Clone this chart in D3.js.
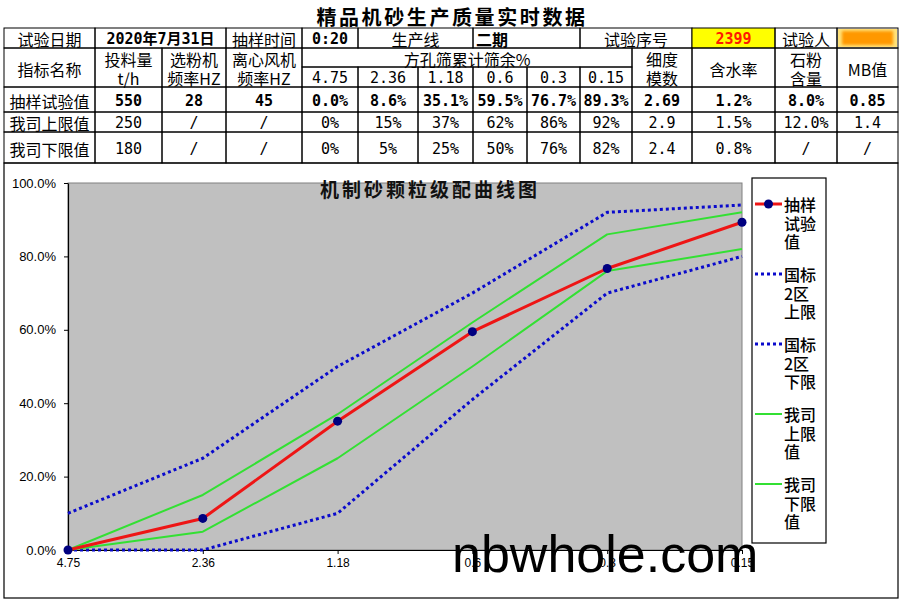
<!DOCTYPE html>
<html><head><meta charset="utf-8">
<script src="https://cdn.jsdelivr.net/npm/d3@7/dist/d3.min.js"></script>
<style>body{margin:0;background:#fff}</style>
</head><body><svg id="c" width="900" height="600"></svg>
<script>
// ---------- data ----------
const pageTitle = "精品机砂生产质量实时数据";
const chartTitle = "机制砂颗粒级配曲线图";
const infoRow = ["试验日期","2020年7月31日","抽样时间","0:20","生产线","二期","试验序号","2399","试验人",""];
const headerLabels = ["指标名称","投料量\nt/h","选粉机\n频率HZ","离心风机\n频率HZ","方孔筛累计筛余%","细度\n模数","含水率","石粉\n含量","MB值"];
const sieveSizes = ["4.75","2.36","1.18","0.6","0.3","0.15"];
const sampleRow = ["抽样试验值","550","28","45","0.0%","8.6%","35.1%","59.5%","76.7%","89.3%","2.69","1.2%","8.0%","0.85"];
const upperRow  = ["我司上限值","250","/","/","0%","15%","37%","62%","86%","92%","2.9","1.5%","12.0%","1.4"];
const lowerRow  = ["我司下限值","180","/","/","0%","5%","25%","50%","76%","82%","2.4","0.8%","/","/"];
const sampleValues = [0, 8.6, 35.1, 59.5, 76.7, 89.3];
const gbUpper = [10, 25, 50, 70, 92, 94];
const gbLower = [0, 0, 10, 41, 70, 80];
const coUpper = [0, 15, 37, 62, 86, 92];
const coLower = [0, 5, 25, 50, 76, 82];
const seriesNames = ["抽样试验值","国标2区上限","国标2区下限","我司上限值","我司下限值"];
const yTicks = [0, 20, 40, 60, 80, 100];
const watermark = "nbwhole.com";

// ---------- layout ----------
const svg = d3.select("#c");
const CJK = "'Noto Sans CJK SC', sans-serif";
const MONO = "'DejaVu Sans Mono', 'Noto Sans CJK SC', monospace";
const ARIAL = "'Liberation Sans', Arial, sans-serif";
const colX = [4, 95, 162, 226, 302, 358, 418, 473, 527, 580, 632, 692, 775, 837, 898];
const rowY = [28, 48, 67, 87, 112, 132, 163];

svg.append("rect").attr("width",900).attr("height",600).attr("fill","#fff");

svg.append("text").attr("x",452).attr("y",16).attr("text-anchor","middle")
  .attr("dominant-baseline","central").attr("font-family",CJK).attr("font-weight","bold")
  .attr("font-size",20).attr("letter-spacing",2.6).attr("fill","#000").text(pageTitle);

const defs = svg.append("defs");
defs.append("filter").attr("id","blur").attr("x","-20%").attr("y","-40%").attr("width","140%").attr("height","180%")
  .append("feGaussianBlur").attr("stdDeviation",1.6);

const tbl = svg.append("g");
function cell(c0, c1, y0, y1, text, o = {}) {
  const x0 = colX[c0], x1 = colX[c1];
  tbl.append("rect").attr("x",x0).attr("y",y0).attr("width",x1-x0).attr("height",y1-y0)
    .attr("fill",o.fill||"none").attr("stroke","#000").attr("stroke-width",1);
  if (!text) return;
  const lines = text.split("\n");
  const lh = o.lh || 19;
  const cy = (y0+y1)/2 - (lines.length-1)*lh/2;
  lines.forEach((t,i)=>{
    tbl.append("text").attr("x", o.left ? x0+3 : (x0+x1)/2).attr("y", cy+i*lh+1)
      .attr("text-anchor", o.left ? "start" : "middle").attr("dominant-baseline","central")
      .attr("font-family", o.font||CJK).attr("font-size", o.size||16)
      .attr("font-weight", o.bold?"bold":"normal").attr("fill", o.color||"#000").text(t);
  });
}
// row 1
const infoSpans = [[0,1],[1,3],[3,4],[4,5],[5,7],[7,9],[9,11],[11,12],[12,13],[13,14]];
infoSpans.forEach((s,i)=>{
  const o = {};
  if (i===1||i===3) { o.bold = true; o.font = MONO; o.size = 15; }
  if (i===5) { o.bold = true; o.left = true; }
  if (i===7) { o.bold = true; o.font = MONO; o.size = 15; o.color = "#ff1a00"; o.fill = "#ffff00"; }
  cell(s[0], s[1], rowY[0], rowY[1], infoRow[i], o);
});
// redacted tester cell
tbl.append("rect").attr("x",838).attr("y",29).attr("width",59).attr("height",18).attr("fill","#ffe27a");
tbl.append("rect").attr("x",842).attr("y",31).attr("width",51).attr("height",14).attr("fill","#ff9800").attr("filter","url(#blur)");
// header rows
cell(0,1,rowY[1],rowY[3],headerLabels[0]);
cell(1,2,rowY[1],rowY[3],headerLabels[1]);
cell(2,3,rowY[1],rowY[3],headerLabels[2]);
cell(3,4,rowY[1],rowY[3],headerLabels[3]);
cell(4,10,rowY[1],rowY[2],headerLabels[4]);
sieveSizes.forEach((s,i)=>cell(4+i,5+i,rowY[2],rowY[3],s,{font:MONO,size:15}));
cell(10,11,rowY[1],rowY[3],headerLabels[5]);
cell(11,12,rowY[1],rowY[3],headerLabels[6]);
cell(12,13,rowY[1],rowY[3],headerLabels[7]);
cell(13,14,rowY[1],rowY[3],headerLabels[8]);
// data rows
[sampleRow, upperRow, lowerRow].forEach((row, r)=>{
  row.forEach((v,i)=>{
    const o = i===0 ? {} : {font:MONO, size: 15, bold: r===0};
    cell(i,i+1,rowY[3+r],rowY[4+r],v,o);
  });
});

// ---------- chart ----------
svg.append("rect").attr("x",4).attr("y",163).attr("width",894).attr("height",435)
  .attr("fill","none").attr("stroke","#000").attr("stroke-width",1.2);

const P = {l:68, r:742, t:183, b:550};
const x = d3.scalePoint().domain(sieveSizes).range([P.l, P.r]).padding(0);
const y = d3.scaleLinear().domain([0,100]).range([P.b, P.t]);

svg.append("rect").attr("x",P.l).attr("y",P.t).attr("width",P.r-P.l).attr("height",P.b-P.t)
  .attr("fill","#c0c0c0").attr("stroke","#808080").attr("stroke-width",1);

const yAxis = svg.append("g").attr("transform",`translate(${P.l},0)`)
  .call(d3.axisLeft(y).tickValues(yTicks).tickSize(4).tickSizeOuter(0).tickPadding(8)
    .tickFormat(d=>d3.format(".1f")(d)+"%"));
yAxis.select(".domain").attr("stroke","#000").attr("stroke-width",1.2);
yAxis.selectAll("text").attr("font-family",ARIAL).attr("font-size",13).attr("fill","#000").attr("dy","0.32em");
yAxis.selectAll(".tick line").attr("stroke","#000");

const xAxis = svg.append("g").attr("transform",`translate(0,${P.b})`)
  .call(d3.axisBottom(x).tickSize(4).tickSizeOuter(0).tickPadding(4));
xAxis.select(".domain").attr("stroke","#000").attr("stroke-width",1.2);
xAxis.selectAll("text").attr("font-family",ARIAL).attr("font-size",12).attr("fill","#000");
xAxis.selectAll(".tick line").attr("stroke","#000");

svg.append("text").attr("x",430).attr("y",188).attr("text-anchor","middle").attr("dominant-baseline","central")
  .attr("font-family",CJK).attr("font-weight","bold").attr("font-size",19).attr("letter-spacing",3)
  .attr("fill","#111").text(chartTitle);

const styles = [
  {stroke:"#ee1515", width:3, dash:null, marker:true},
  {stroke:"#0a0acc", width:3, dash:"3,3", marker:false},
  {stroke:"#0a0acc", width:3, dash:"3,3", marker:false},
  {stroke:"#33e033", width:2, dash:null, marker:false},
  {stroke:"#33e033", width:2, dash:null, marker:false}
];
const seriesValues = [sampleValues, gbUpper, gbLower, coUpper, coLower];
const series = seriesNames.map((n,i)=>({name:n, values:seriesValues[i], style:styles[i]}));
const line = d3.line().x((d,i)=>x(sieveSizes[i])).y(d=>y(d));
const order = [1,2,3,4,0];
order.forEach(k=>{
  const s = series[k];
  svg.append("path").datum(s.values).attr("d",line).attr("fill","none")
    .attr("stroke",s.style.stroke).attr("stroke-width",s.style.width)
    .attr("stroke-dasharray",s.style.dash).attr("stroke-linejoin","round");
  if (s.style.marker) {
    svg.selectAll(null).data(s.values).enter().append("circle")
      .attr("cx",(d,i)=>x(sieveSizes[i])).attr("cy",d=>y(d)).attr("r",4.5).attr("fill","#000080");
  }
});

// legend
const lg = svg.append("g");
lg.append("rect").attr("x",752).attr("y",178).attr("width",74).attr("height",365)
  .attr("fill","#fff").attr("stroke","#000").attr("stroke-width",1.2);
series.forEach((s,i)=>{
  const cy = 204 + i*70;
  lg.append("line").attr("x1",755).attr("x2",782).attr("y1",cy).attr("y2",cy)
    .attr("stroke",s.style.stroke).attr("stroke-width",s.style.width).attr("stroke-dasharray",s.style.dash);
  if (s.style.marker) lg.append("circle").attr("cx",768.5).attr("cy",cy).attr("r",4.5).attr("fill","#000080");
  const parts = s.name.match(/.{1,2}/g);
  parts.forEach((p,j)=>{
    lg.append("text").attr("x",784).attr("y",cy + j*18.5).attr("dominant-baseline","central")
      .attr("font-family",CJK).attr("font-size",16).attr("font-weight",500).attr("fill","#000").text(p);
  });
});

// watermark
svg.append("text").attr("x",452).attr("y",572).attr("font-family",ARIAL).attr("font-size",52)
  .attr("fill","#000").text(watermark);
</script></body></html>
